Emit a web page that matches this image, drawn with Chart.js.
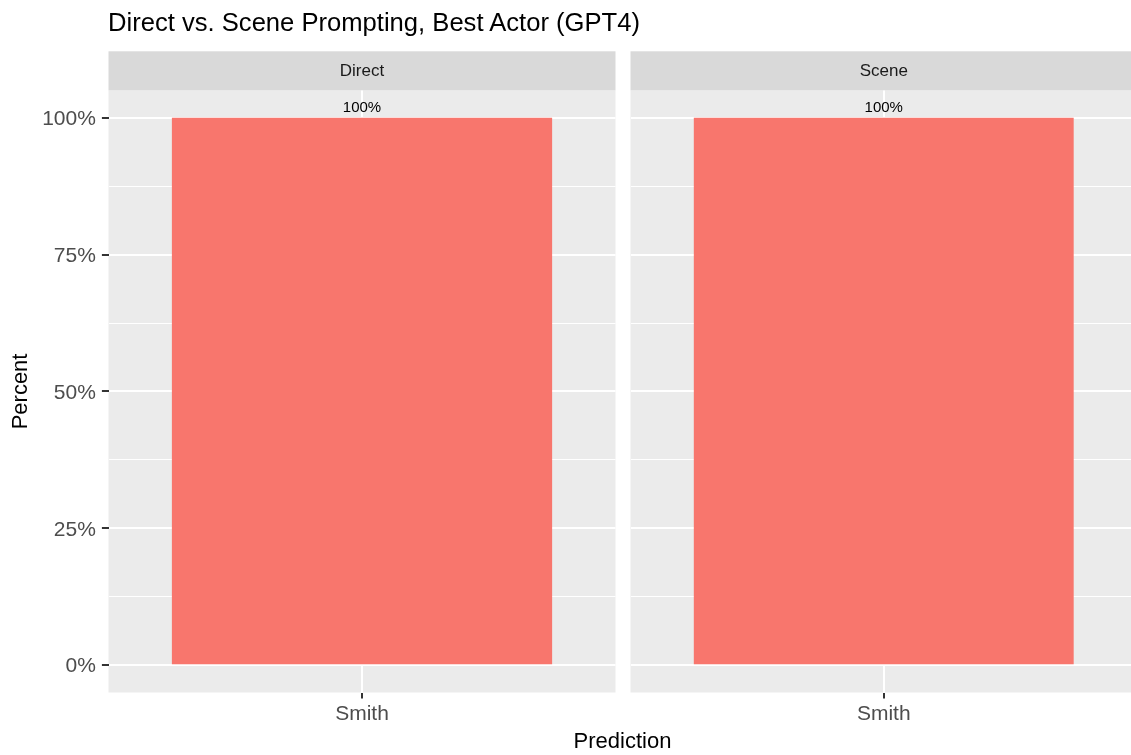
<!DOCTYPE html>
<html>
<head>
<meta charset="utf-8">
<script src="https://cdn.jsdelivr.net/npm/chart.js@4.4.1/dist/chart.umd.min.js"></script>
<style>
  html, body { margin: 0; padding: 0; background: #fff; overflow: hidden; }
  #stage { position: relative; width: 1131px; height: 755px; overflow: hidden; background: #fff; }
  .panel { position: absolute; left: 0; top: 0; width: 1140px; height: 755px; }
  .txt { position: absolute; font-family: 'Liberation Sans', Arial, sans-serif; line-height: 1; white-space: nowrap; color: #000; }
  #title { left: 108px; top: 10px; font-size: 25.6px; }
  #xtitle { left: 0; width: 1245px; text-align: center; top: 730px; font-size: 22px; }
</style>
</head>
<body>
<div id="stage">
  <div class="panel"><canvas id="left"></canvas></div>
  <div class="panel"><canvas id="right"></canvas></div>
  <div class="txt" id="title">Direct vs. Scene Prompting, Best Actor (GPT4)</div>
  <div class="txt" id="xtitle">Prediction</div>
</div>
<script>
// facet_wrap(~prompt) bar chart, one canvas per facet, laid over each other.
const FONT = "'Liberation Sans', Arial, sans-serif";

const facets = ['Direct', 'Scene'];
const predictions = ['Smith'];
const directPercent = [100];
const scenePercent = [100];
const yMajor = [0, 25, 50, 75, 100];
const yMinor = [12.5, 37.5, 62.5, 87.5];

const BAR = '#F8766D';
const PANEL_BG = '#EBEBEB';
const STRIP_BG = '#D9D9D9';

// panel + strip backgrounds, like theme_gray
const facetBackground = {
    id: 'facetBackground',
    beforeDraw(chart) {
        const { ctx, chartArea } = chart;
        ctx.save();
        ctx.fillStyle = PANEL_BG;
        ctx.fillRect(chartArea.left, chartArea.top, chartArea.width, chartArea.height);
        const tb = chart.titleBlock;
        if (tb) {
            ctx.fillStyle = STRIP_BG;
            ctx.fillRect(chartArea.left, tb.top, chartArea.width, tb.height);
        }
        ctx.restore();
    },
};

// "100%" text over each bar
const barLabels = {
    id: 'barLabels',
    afterDatasetsDraw(chart) {
        const { ctx } = chart;
        const ds = chart.data.datasets[0];
        ctx.save();
        ctx.font = `15px ${FONT}`;
        ctx.fillStyle = '#000';
        ctx.textAlign = 'center';
        ctx.textBaseline = 'alphabetic';
        chart.getDatasetMeta(0).data.forEach((bar, i) => {
            ctx.fillText(ds.data[i] + '%', bar.x, bar.y - 5.7);
        });
        ctx.restore();
    },
};

function makeChart(canvas, facet, values, isFirst) {
    const allTicks = [...yMajor, ...yMinor].sort((a, b) => a - b);
    const isMajor = (v) => yMajor.includes(v);
    return new Chart(canvas.getContext('2d'), {
        type: 'bar',
        data: {
            labels: predictions,
            datasets: [{
                data: values,
                backgroundColor: BAR,
                borderWidth: 0,
                barPercentage: 0.75,
                categoryPercentage: 1,
            }],
        },
        options: {
            responsive: true,
            maintainAspectRatio: false,
            animation: false,
            layout: {
                padding: isFirst
                    ? { left: 0, top: 51.3, right: 1140 - 615.5, bottom: 755 - 692.5 - 40 }
                    : { left: 630.5, top: 51.3, right: 3, bottom: 755 - 692.5 - 40 },
            },
            plugins: {
                legend: { display: false },
                tooltip: { enabled: false },
                title: {
                    display: true,
                    text: facet,
                    fullSize: false,
                    align: 'center',
                    color: '#1A1A1A',
                    font: { family: FONT, size: 17, weight: 'normal', lineHeight: 1.2 },
                    padding: { top: 9.35, bottom: 9.35 },
                },
            },
            scales: {
                x: {
                    offset: true,
                    border: { display: false },
                    grid: {
                        offset: false,
                        color: '#FFFFFF',
                        lineWidth: 2,
                        drawTicks: true,
                        tickLength: 6,
                        tickColor: '#333333',
                        tickWidth: 2,
                    },
                    ticks: {
                        color: '#4D4D4D',
                        padding: 3,
                        font: { family: FONT, size: 21 },
                    },
                    afterFit: (scale) => { scale.height = 40; },
                },
                y: {
                    min: -5,
                    max: 105,
                    border: { display: false },
                    afterBuildTicks: (scale) => {
                        scale.ticks = allTicks.map((v) => ({ value: v }));
                    },
                    grid: {
                        color: '#FFFFFF',
                        lineWidth: (c) => (isMajor(c.tick.value) ? 2 : 1),
                        drawTicks: isFirst,
                        tickLength: 6.6,
                        tickColor: (c) => (isMajor(c.tick.value) ? '#333333' : 'rgba(0,0,0,0)'),
                        tickWidth: 2,
                    },
                    ticks: {
                        display: isFirst,
                        autoSkip: false,
                        color: '#4D4D4D',
                        padding: 6,
                        labelOffset: 1.5,
                        font: { family: FONT, size: 21 },
                        callback: (v) => (isMajor(v) ? v + '%' : ''),
                    },
                    title: {
                        display: isFirst,
                        text: 'Percent',
                        color: '#000',
                        font: { family: FONT, size: 22 },
                        padding: { top: 8, bottom: 0 },
                    },
                    afterFit: (scale) => { scale.width = isFirst ? 108.5 : 0; },
                },
            },
        },
        plugins: [facetBackground, barLabels],
    });
}

makeChart(document.getElementById('left'), facets[0], directPercent, true);
makeChart(document.getElementById('right'), facets[1], scenePercent, false);
</script>
</body>
</html>
